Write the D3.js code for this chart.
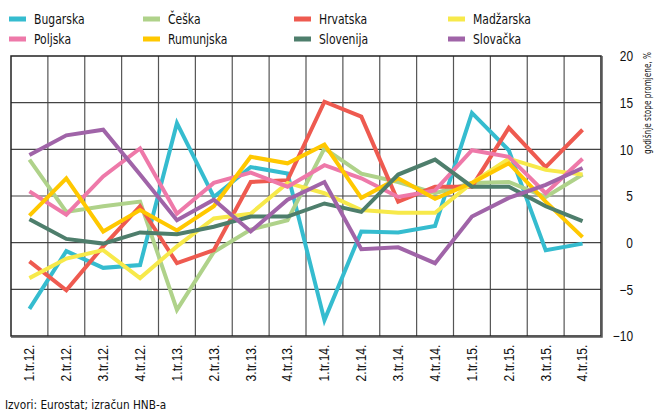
<!DOCTYPE html>
<html><head><meta charset="utf-8">
<script src="https://cdn.jsdelivr.net/npm/d3@7"></script>
<style>
body{margin:0;background:#fff;}
svg{display:block;font-family:"Liberation Sans Narrow","DejaVu Sans Condensed","Arial Narrow",sans-serif;}
</style></head>
<body><svg id="c" width="667" height="414"></svg>
<script>
const quarters = ["1.tr.12.","2.tr.12.","3.tr.12.","4.tr.12.","1.tr.13.","2.tr.13.","3.tr.13.","4.tr.13.","1.tr.14.","2.tr.14.","3.tr.14.","4.tr.14.","1.tr.15.","2.tr.15.","3.tr.15.","4.tr.15."];
const bugarska  = [-7.1,-0.9,-2.7,-2.4,12.8,4.9,8.1,7.4,-8.3,1.2,1.1,1.8,13.9,9.9,-0.8,-0.1];
const ceska     = [8.9,3.3,3.9,4.4,-7.2,-1.0,1.4,2.4,10.1,7.4,6.5,5.3,6.4,6.5,4.9,7.3];
const hrvatska  = [-2.0,-5.1,-0.4,3.9,-2.2,-0.8,6.5,6.7,15.1,13.5,4.4,6.0,6.0,12.3,8.1,12.1];
const madzarska = [-3.8,-1.7,-0.8,-3.8,-0.4,2.6,3.1,6.4,5.3,3.5,3.2,3.2,6.4,9.0,7.8,7.3];
const poljska   = [5.5,3.0,7.1,10.1,3.1,6.4,7.5,6.0,8.3,6.9,4.9,5.6,9.9,9.2,5.3,9.0];
const rumunjska = [2.9,6.9,1.2,3.5,1.3,3.9,9.2,8.5,10.5,4.8,6.9,4.7,6.4,8.5,4.4,0.6];
const slovenija = [2.5,0.4,-0.1,1.1,0.9,1.7,2.8,2.8,4.2,3.3,7.3,8.9,6.0,6.0,3.9,2.3];
const slovacka  = [9.4,11.5,12.1,7.3,2.4,4.6,1.2,4.6,6.5,-0.7,-0.5,-2.2,2.8,4.8,6.2,8.0];
const seriesNames = ["Bugarska","Češka","Hrvatska","Madžarska","Poljska","Rumunjska","Slovenija","Slovačka"];
const seriesValues = [bugarska,ceska,hrvatska,madzarska,poljska,rumunjska,slovenija,slovacka];
const colors = ["#35BCCF","#AFD28A","#EE5A50","#F7E94A","#EE79A9","#FFC800","#4E7E6C","#A064A8"];
const yTicks = [-10,-5,0,5,10,15,20];
const yTitle = "godišnje stope promjene, %";
const source = "Izvori: Eurostat; izračun HNB-a";

const svg = d3.select("#c");
const L=11,R=601,T=56,B=336;
const x = d3.scaleBand().domain(quarters).range([L,R]);
const y = d3.scaleLinear().domain([-10,20]).range([B,T]);

// grid
const g = svg.append("g");
g.selectAll("line.v").data(quarters.slice(1)).enter().append("line")
  .attr("x1",d=>x(d)).attr("x2",d=>x(d)).attr("y1",T).attr("y2",B)
  .attr("stroke","#555").attr("stroke-width",1.2);
g.selectAll("line.h").data(yTicks.slice(1,-1)).enter().append("line")
  .attr("x1",L).attr("x2",R).attr("y1",d=>y(d)).attr("y2",d=>y(d))
  .attr("stroke","#444").attr("stroke-width",1.2);

// lines
const line = d3.line().x((d,i)=>x(quarters[i])+x.bandwidth()/2).y(d=>y(d));
svg.append("g").selectAll("path").data(seriesValues).enter().append("path")
  .attr("d",line).attr("fill","none")
  .attr("stroke",(d,i)=>colors[i]).attr("stroke-width",4)
  .attr("stroke-linejoin","miter").attr("stroke-miterlimit",4);

// border
svg.append("rect").attr("x",L).attr("y",T).attr("width",R-L).attr("height",B-T)
  .attr("fill","none").attr("stroke","#222").attr("stroke-width",1.5);
svg.append("path").attr("d",`M${R+1},${T}V${B+1}H${L}`).attr("fill","none").attr("stroke","#555").attr("stroke-width",1.5);

// right axis
const ya = svg.append("g").attr("transform",`translate(${R},0)`)
  .call(d3.axisRight(y).tickValues(yTicks).tickSize(0).tickFormat(d=>d<0?"\u2212"+Math.abs(d):d));
ya.select(".domain").remove();
ya.selectAll("text").attr("x",null).attr("dy",null)
  .attr("transform","translate(32,0) scale(0.85,1)").attr("dy","0.35em")
  .attr("text-anchor","end").attr("font-size",14).attr("fill","#111").attr("font-family",null);

svg.append("text").attr("transform",`translate(651,52) rotate(-90) scale(0.74,1)`).attr("text-anchor","end")
  .attr("font-size",11).attr("fill","#111").text(yTitle);

// bottom axis
const xa = svg.append("g").attr("transform",`translate(0,${B})`)
  .call(d3.axisBottom(x).tickSize(0));
xa.select(".domain").remove();
xa.selectAll("text").attr("transform","rotate(-90) scale(0.86,1)").attr("x",-10).attr("y",0).attr("dy","0.35em")
  .attr("text-anchor","end").attr("font-size",14).attr("fill","#111").attr("font-family",null);

// legend
const lx=[9,143,294,448], ly=[19,39];
const lg = svg.append("g").selectAll("g").data(seriesNames).enter().append("g")
  .attr("transform",(d,i)=>`translate(${lx[i%4]},${ly[Math.floor(i/4)]})`);
lg.append("rect").attr("x",0).attr("y",-2.5).attr("width",17).attr("height",5).attr("fill",(d,i)=>colors[i]);
lg.append("text").attr("transform","translate(25,0) scale(0.86,1)").attr("dy","0.35em").attr("font-size",14).attr("fill","#111").text(d=>d);

svg.append("text").attr("transform","translate(5,409) scale(0.9,1)").attr("font-size",13).attr("fill","#111").text(source);
</script></body></html>
